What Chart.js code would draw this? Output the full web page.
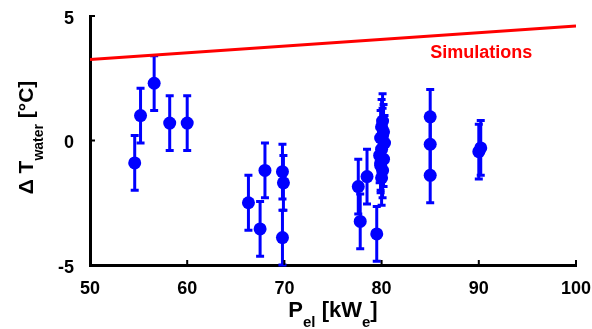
<!DOCTYPE html>
<html lang="en">
<head>
    <meta charset="UTF-8">
    <title>Delta T water vs Pel</title>
    <script src="https://cdn.jsdelivr.net/npm/chart.js"></script>
    <style>
        body { margin: 0; background: #fff; }
        .box { width: 592px; height: 329px; }
    </style>
</head>
<body>
    <div class="box">
        <canvas id="dT"></canvas>
    </div>

<script>
// measurements (Pel in kWe, delta T in degC)
var pel = [54.6, 55.2, 56.6, 58.2, 60.0, 66.3, 67.5, 68.0, 69.8, 69.9, 69.8,
           77.6, 77.8, 78.5, 79.5,
           80.1, 80.0, 80.2, 79.9, 80.3, 80.0, 79.8, 80.2, 79.9, 80.1,
           80.0, 80.1, 79.9,
           85.0, 85.0, 85.0, 90.0, 90.2];
var dTwater = [-0.9, 1.0, 2.3, 0.7, 0.7, -2.5, -3.55, -1.2, -1.25, -1.7, -3.9,
               -1.85, -3.25, -1.45, -3.75,
               0.78, 0.55, 0.35, 0.1, -0.1, -0.35, -0.6, -0.75, -1.0, -1.2,
               -1.5, 0.2, -0.9,
               0.95, -0.15, -1.4, -0.45, -0.3];
var dTerr = [1.1, 1.1, 1.1, 1.1, 1.1, 1.1, 1.1, 1.1, 1.1, 1.1, 1.1,
             1.1, 1.1, 1.1, 1.1,
             1.1, 1.1, 1.1, 1.1, 1.1, 1.1, 1.1, 1.1, 1.1, 1.1,
             1.1, 1.1, 1.1,
             1.1, 1.1, 1.1, 1.1, 1.1];

// simulation line
var simPel = [50, 100];
var simDT = [3.25, 4.6];

var xTicks = [50, 60, 70, 80, 90, 100];
var yTicks = [-5, 0, 5];

var FONT = "'Liberation Sans', Arial, sans-serif";

function drawParts(ctx, parts, big, small, subDrop) {
    var total = 0;
    parts.forEach(p => {
        ctx.font = 'bold ' + (p.sub ? small : big) + 'px ' + FONT;
        p.w = ctx.measureText(p.t).width;
        total += p.w;
    });
    var x = -total / 2;
    ctx.textAlign = 'left';
    ctx.textBaseline = 'alphabetic';
    parts.forEach(p => {
        ctx.font = 'bold ' + (p.sub ? small : big) + 'px ' + FONT;
        ctx.fillText(p.t, x, p.sub ? subDrop : 0);
        x += p.w;
    });
}

var extras = {
    id: 'extras',
    beforeDatasetsDraw(chart) {
        // error bars
        var ctx = chart.ctx, xs = chart.scales.x, ys = chart.scales.y;
        ctx.save();
        ctx.strokeStyle = '#0000ff';
        ctx.lineWidth = 3;
        for (var i = 0; i < pel.length; i++) {
            var px = xs.getPixelForValue(pel[i]);
            var top = ys.getPixelForValue(dTwater[i] + dTerr[i]);
            var bot = ys.getPixelForValue(dTwater[i] - dTerr[i]);
            ctx.beginPath();
            ctx.moveTo(px, top); ctx.lineTo(px, bot);
            ctx.moveTo(px - 4, top); ctx.lineTo(px + 4, top);
            ctx.moveTo(px - 4, bot); ctx.lineTo(px + 4, bot);
            ctx.stroke();
        }
        ctx.restore();
    },
    afterDraw(chart) {
        var ctx = chart.ctx, a = chart.chartArea, xs = chart.scales.x, ys = chart.scales.y;
        ctx.save();
        // inward tick marks
        ctx.strokeStyle = '#000';
        ctx.lineWidth = 2;
        ctx.beginPath();
        xTicks.forEach(v => {
            var p = xs.getPixelForValue(v);
            ctx.moveTo(p, a.bottom); ctx.lineTo(p, a.bottom - 5);
        });
        yTicks.forEach(v => {
            var p = ys.getPixelForValue(v);
            ctx.moveTo(a.left, p); ctx.lineTo(a.left + 5, p);
        });
        ctx.stroke();

        // label for the simulation line
        ctx.fillStyle = '#ff0000';
        ctx.font = 'bold 18px ' + FONT;
        ctx.textAlign = 'left';
        ctx.textBaseline = 'middle';
        ctx.fillText('Simulations', xs.getPixelForValue(85.0), ys.getPixelForValue(3.53));

        // axis titles with subscripts
        ctx.fillStyle = '#000';
        ctx.save();
        ctx.translate((a.left + a.right) / 2, 317);
        drawParts(ctx, [{t: 'P'}, {t: 'el', sub: true}, {t: ' [kW'}, {t: 'e', sub: true}, {t: ']'}], 22, 15, 10);
        ctx.restore();

        ctx.save();
        ctx.translate(33, 137.5);
        ctx.rotate(-Math.PI / 2);
        drawParts(ctx, [{t: 'Δ T'}, {t: 'water', sub: true}, {t: ' [°C]'}], 21, 14, 10);
        ctx.restore();
        ctx.restore();
    }
};

new Chart(document.getElementById('dT'), {
    type: 'scatter',
    data: {
        datasets: [
            {
                label: 'Simulations',
                type: 'line',
                data: simPel.map((x, i) => ({x: x, y: simDT[i]})),
                borderColor: '#ff0000',
                borderWidth: 3,
                pointRadius: 0,
                fill: false
            },
            {
                label: 'Measurements',
                data: pel.map((x, i) => ({x: x, y: dTwater[i]})),
                backgroundColor: '#0000ff',
                borderColor: '#0000ff',
                pointRadius: 6.5,
                pointBorderWidth: 0
            }
        ]
    },
    options: {
        responsive: true,
        maintainAspectRatio: false,
        animation: false,
        layout: { padding: { left: 0, right: 16, top: 16, bottom: 0 } },
        plugins: {
            legend: { display: false },
            tooltip: { enabled: false }
        },
        scales: {
            x: {
                type: 'linear',
                min: 50,
                max: 100,
                afterFit: s => { s.height = 64; s.paddingLeft = 0; s.paddingRight = 0; },
                afterBuildTicks: s => { s.ticks = xTicks.map(v => ({value: v})); },
                grid: { display: false },
                border: { display: true, color: '#000', width: 3 },
                ticks: {
                    color: '#000',
                    padding: 5,
                    maxRotation: 0,
                    font: { family: FONT, size: 18, weight: 'bold' }
                }
            },
            y: {
                min: -5,
                max: 5,
                afterFit: s => { s.width = 90; s.paddingTop = 0; s.paddingBottom = 0; },
                afterBuildTicks: s => { s.ticks = yTicks.map(v => ({value: v})); },
                grid: { display: false },
                border: { display: true, color: '#000', width: 3 },
                ticks: {
                    color: '#000',
                    padding: 8,
                    labelOffset: 3,
                    font: { family: FONT, size: 18, weight: 'bold' }
                }
            }
        }
    },
    plugins: [extras]
});
</script>
</body>
</html>
